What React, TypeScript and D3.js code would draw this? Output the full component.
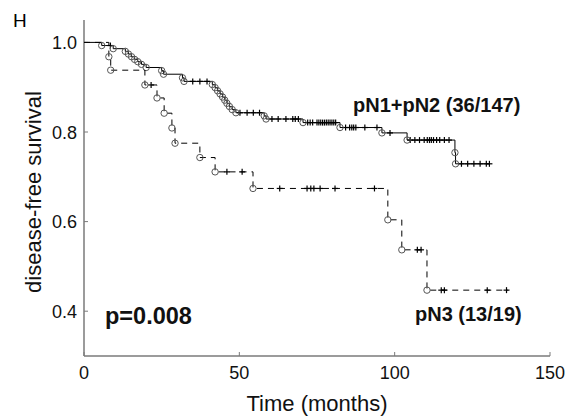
import React from "react";
import * as d3 from "d3";

// pN1+pN2 (solid) : event times (months) and survival after each event
const pN12Times = [5.7, 9.4, 13.3, 14.3, 15.3, 16.3, 17.3, 18.5, 20.0, 25.0, 25.6, 31.7, 32.2,
  41.3, 42.2, 43.0, 43.8, 44.6, 45.3, 46.0, 46.8, 47.7, 48.9, 58.0, 58.6, 70.5, 82.4, 95.9, 104.0, 119.4, 119.6];
const pN12Surv = [0.993, 0.986, 0.980, 0.974, 0.968, 0.962, 0.957, 0.951, 0.944, 0.937, 0.929, 0.921, 0.913,
  0.906, 0.899, 0.892, 0.885, 0.878, 0.871, 0.864, 0.857, 0.850, 0.843, 0.836, 0.829, 0.821, 0.810, 0.798, 0.782, 0.754, 0.729];
const pN12Censor = [8.5, 35.0, 37.3, 39.6, 50.2, 52.5, 54.5, 56.5, 60.5, 62.5, 65.0, 67.2, 68.0, 69.0,
  72.0, 72.8, 73.6, 75.0, 75.6, 76.2, 76.8, 77.4, 78.0, 78.6, 79.2, 79.8, 80.4, 81.0,
  84.2, 85.5, 86.2, 86.8, 87.5, 90.4, 94.3, 98.5,
  105.0, 106.5, 108.0, 109.5, 110.5, 111.2, 111.8, 112.5, 113.5, 114.5, 116.0, 117.5,
  121.5, 123.5, 125.5, 127.5, 129.5, 130.5];
const pN12End = 130.7;

// pN3 (dashed)
const pN3Times = [8.0, 8.6, 19.6, 23.5, 25.8, 28.3, 29.3, 37.3, 42.2, 54.4, 97.8, 102.3, 110.4];
const pN3Surv = [0.968, 0.938, 0.905, 0.876, 0.842, 0.809, 0.775, 0.743, 0.711, 0.674, 0.604, 0.537, 0.447];
const pN3Censor = [21.6, 46.0, 50.9, 63.0, 71.8, 73.0, 74.0, 76.0, 80.8, 93.5, 107.3, 108.5, 115.0, 116.0, 129.8, 136.0];
const pN3End = 136.5;

const xTicks = [0, 50, 100, 150];
const yTicks = [0.4, 0.6, 0.8, 1.0];

const FONT = "'Liberation Sans', Arial, Helvetica, sans-serif";

function stepAt(times: number[], surv: number[], t: number) {
  let s = 1;
  for (let i = 0; i < times.length; i++) if (times[i] <= t) s = surv[i];
  return s;
}

export default function App() {
  const x = d3.scaleLinear().domain([0, 150]).range([84, 550]);
  const y = d3.scaleLinear().domain([0.3, 1.05]).range([356, 20]);
  const line = d3
    .line<[number, number]>()
    .x((d) => x(d[0]))
    .y((d) => y(d[1]))
    .curve(d3.curveStepAfter);

  const pts = (times: number[], surv: number[], end: number): [number, number][] => {
    const p: [number, number][] = [[0, 1]];
    times.forEach((t, i) => p.push([t, surv[i]]));
    p.push([end, surv[surv.length - 1]]);
    return p;
  };

  const series = [
    { times: pN12Times, surv: pN12Surv, censor: pN12Censor, end: pN12End, dash: undefined as string | undefined },
    { times: pN3Times, surv: pN3Surv, censor: pN3Censor, end: pN3End, dash: "6,5" },
  ];

  return (
    <svg width={572} height={420} style={{ position: "absolute", left: 0, top: 0, background: "#fff" }} fontFamily={FONT}>
      <rect width={572} height={420} fill="#fff" />
      <text x={13} y={27} fontSize={19} fill="#000">H</text>

      {/* axes */}
      <line x1={x(0)} x2={x(0)} y1={y(1.05)} y2={y(0.3)} stroke="#7a7a7a" strokeWidth={1.5} />
      <line x1={x(0)} x2={x(150)} y1={y(0.3)} y2={y(0.3)} stroke="#7a7a7a" strokeWidth={1.5} />
      {xTicks.map((t) => (
        <g key={"xt" + t}>
          <line x1={x(t)} x2={x(t)} y1={y(0.3)} y2={y(0.3) - 4} stroke="#7a7a7a" strokeWidth={1} />
          <text x={x(t)} y={379} fontSize={18} textAnchor="middle" fill="#111">{t}</text>
        </g>
      ))}
      {yTicks.map((t) => (
        <g key={"yt" + t}>
          <line x1={x(0)} x2={x(0) + 4} y1={y(t)} y2={y(t)} stroke="#7a7a7a" strokeWidth={1} />
          <text x={77} y={y(t) + 6.5} fontSize={18} textAnchor="end" fill="#111">{t.toFixed(1)}</text>
        </g>
      ))}
      <text x={317} y={411} fontSize={22} textAnchor="middle" fill="#111">Time (months)</text>
      <text transform={`translate(41,192) rotate(-90)`} fontSize={22} textAnchor="middle" fill="#111">disease-free survival</text>

      {series.map((s, si) => (
        <g key={"s" + si}>
          <path d={line(pts(s.times, s.surv, s.end)) || ""} fill="none" stroke="#000" strokeWidth={1} strokeDasharray={s.dash} />
          {s.censor.map((c, i) => {
            const cx = x(c);
            const cy = y(stepAt(s.times, s.surv, c));
            return (
              <g key={"c" + i} stroke="#000" strokeWidth={1.2}>
                <line x1={cx} x2={cx} y1={cy - 3} y2={cy + 3} />
                <line x1={cx - 3} x2={cx + 3} y1={cy} y2={cy} />
              </g>
            );
          })}
          {s.times.map((t, i) => (
            <circle key={"e" + i} cx={x(t)} cy={y(s.surv[i])} r={3.2} fill="none" stroke="#555" strokeWidth={1} />
          ))}
        </g>
      ))}

      <text x={353} y={112} fontSize={20} fontWeight="bold" fill="#111">pN1+pN2 (36/147)</text>
      <text x={415} y={321} fontSize={20} fontWeight="bold" fill="#111">pN3 (13/19)</text>
      <text x={105} y={324} fontSize={23.5} fontWeight="bold" fill="#111">p=0.008</text>
    </svg>
  );
}
